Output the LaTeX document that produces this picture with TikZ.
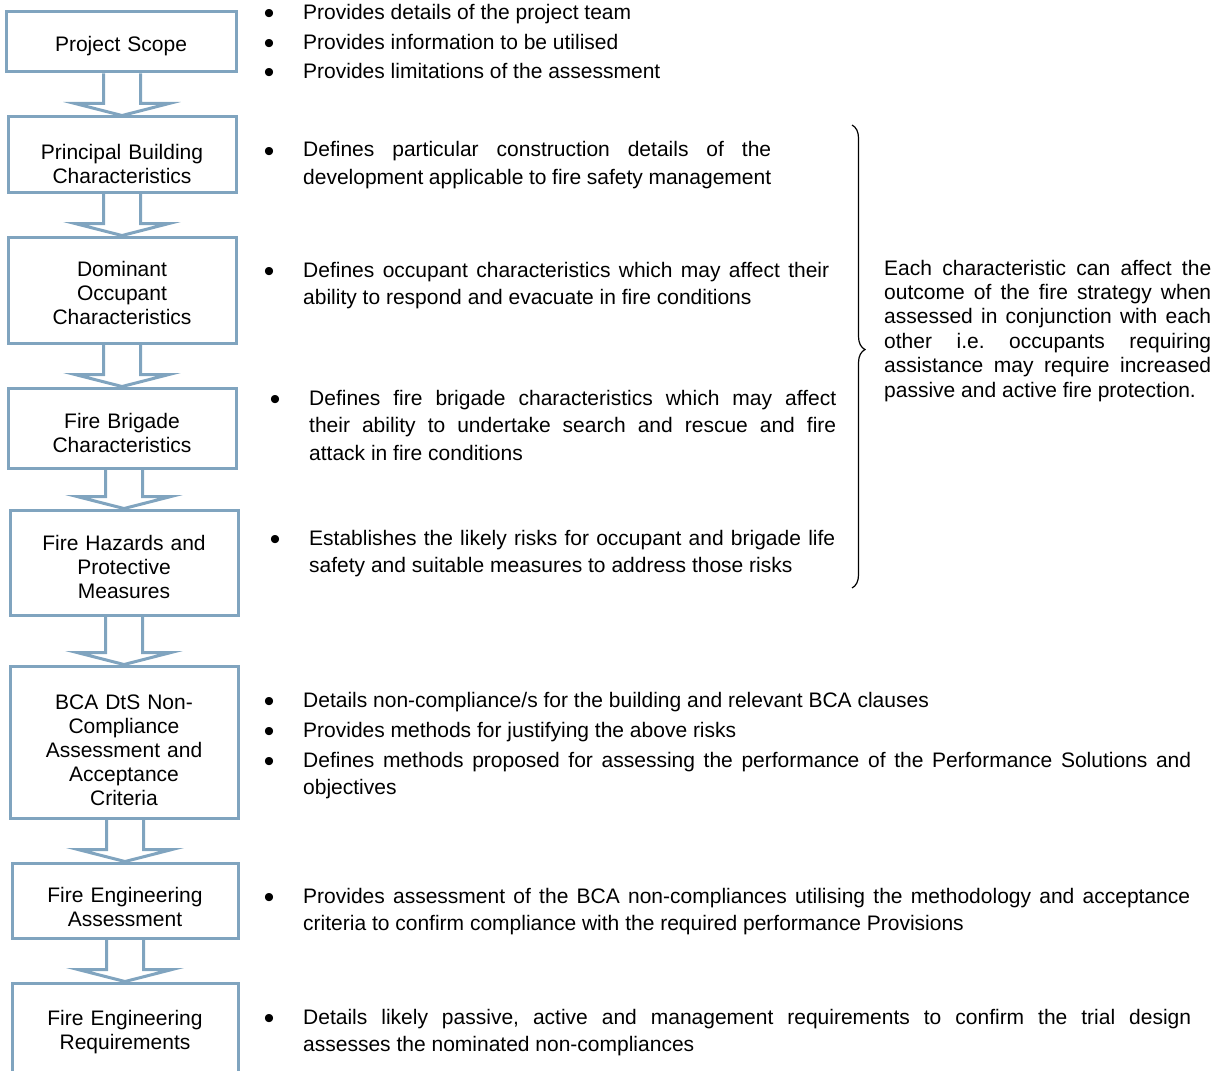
\documentclass[tikz,border=0pt]{standalone}
\usepackage{fontspec}
\setmainfont{Liberation Sans}
\usetikzlibrary{backgrounds,decorations.pathreplacing}
\definecolor{boxc}{RGB}{128,164,191}
\tikzset{
  box/.style={draw=boxc, line width=3pt, fill=white, inner sep=0pt},
  btxt/.style={font=\fontsize{21}{24}\selectfont, text width=#1, align=center, anchor=base, inner sep=0pt},
  ptxt/.style={font=\fontsize{21}{27.6}\selectfont, text width=#1, align=justify, anchor=base west, inner sep=0pt,
    execute at begin node={\tolerance=10000\hbadness=10000\hyphenpenalty=10000\exhyphenpenalty=10000\frenchspacing}},
  rtxt/.style={font=\fontsize{21}{24.4}\selectfont, text width=#1, align=justify, anchor=base west, inner sep=0pt,
    execute at begin node={\tolerance=10000\hbadness=10000\hyphenpenalty=10000\exhyphenpenalty=10000\frenchspacing}},
  bul/.style={font=\fontsize{30}{30}\selectfont, anchor=base, inner sep=0pt, yshift=-4pt},
  blk/.style={draw=boxc, line width=3pt, line join=miter},
  brc/.style={draw=black, line width=1.2pt, decorate, decoration={brace, amplitude=13pt, aspect=0.485}}
}
\newcommand\flowarrow[2]{%
  \draw[blk] ([xshift=-18.5pt]#2.north |- #1.south) -- ([xshift=-18.5pt,yshift=12pt]#2.north)
    -- ([xshift=-47pt,yshift=12pt]#2.north) -- (#2.north) -- ([xshift=47pt,yshift=12pt]#2.north)
    -- ([xshift=18.5pt,yshift=12pt]#2.north) -- ([xshift=18.5pt]#2.north |- #1.south);}
\begin{document}
\begin{tikzpicture}[x=1pt,y=-1pt]
\useasboundingbox (0,0) rectangle (1217,1070);
\clip (0,0) rectangle (1217,1070);
% boxes
\node[box, minimum width=230pt, minimum height=60pt] (b1) at (121,42) {};
\node[box, minimum width=228pt, minimum height=75pt] (b2) at (122,154.5) {};
\node[box, minimum width=228pt, minimum height=106pt] (b3) at (122,290) {};
\node[box, minimum width=228pt, minimum height=80pt] (b4) at (122,428) {};
\node[box, minimum width=228pt, minimum height=105pt] (b5) at (124,562.5) {};
\node[box, minimum width=228pt, minimum height=152pt] (b6) at (124,742) {};
\node[box, minimum width=226pt, minimum height=75pt] (b7) at (125,900.5) {};
\node[box, minimum width=226pt, minimum height=100pt] (b8) at (125,1033) {};
% box texts
\node[btxt=226pt] (t1) at (121,52) {Project Scope};
\node[btxt=226pt] (t2) at (122,159) {Principal Building\\Characteristics};
\node[btxt=226pt] (t3) at (122,276) {Dominant\\Occupant\\Characteristics};
\node[btxt=226pt] (t4) at (122,428) {Fire Brigade\\Characteristics};
\node[btxt=226pt] (t5) at (124,550) {Fire Hazards and\\Protective\\Measures};
\node[btxt=226pt] (t6) at (124,709) {BCA DtS Non-\\Compliance\\Assessment and\\Acceptance\\Criteria};
\node[btxt=226pt] (t7) at (125,902) {Fire Engineering\\Assessment};
\node[btxt=226pt] (t8) at (125,1025) {Fire Engineering\\Requirements};
% arrows
\begin{scope}[on background layer]
\flowarrow{b1}{b2}
\flowarrow{b2}{b3}
\flowarrow{b3}{b4}
\flowarrow{b4}{b5}
\flowarrow{b5}{b6}
\flowarrow{b6}{b7}
\flowarrow{b7}{b8}
\end{scope}
% bullets
\node[bul] (u1) at (269,20) {•};
\node[bul] (u2) at (269,50) {•};
\node[bul] (u3) at (269,79) {•};
\node[ptxt=600pt] (p1) at (303,20) {Provides details of the project team};
\node[ptxt=600pt] (p2) at (303,50) {Provides information to be utilised};
\node[ptxt=600pt] (p3) at (303,79) {Provides limitations of the assessment};
\node[bul] (u4) at (269,157) {•};
\node[ptxt=468pt] (p4) at (303,157) {Defines particular construction details of the\linebreak development applicable to fire safety management};
\node[bul] (u5) at (269,277) {•};
\node[ptxt=526pt] (p5) at (303,277) {Defines occupant characteristics which may affect their\linebreak ability to respond and evacuate in fire conditions};
\node[bul] (u6) at (275,405) {•};
\node[ptxt=527pt] (p6) at (309,405) {Defines fire brigade characteristics which may affect\linebreak their ability to undertake search and rescue and fire\linebreak attack in fire conditions};
\node[bul] (u7) at (275,545) {•};
\node[ptxt=526pt] (p7) at (309,545) {Establishes the likely risks for occupant and brigade life\linebreak safety and suitable measures to address those risks};
\node[bul] (u8) at (269,707) {•};
\node[bul] (u9) at (269,737) {•};
\node[bul] (u10) at (269,767) {•};
\node[ptxt=888pt] (p8) at (303,707) {Details non-compliance/s for the building and relevant BCA clauses};
\node[ptxt=888pt] (p9) at (303,737) {Provides methods for justifying the above risks};
\node[ptxt=888pt] (p10) at (303,767) {Defines methods proposed for assessing the performance of the Performance Solutions and\linebreak objectives};
\node[bul] (u11) at (269,903) {•};
\node[ptxt=887pt] (p11) at (303,903) {Provides assessment of the BCA non-compliances utilising the methodology and acceptance\linebreak criteria to confirm compliance with the required performance Provisions};
\node[bul] (u12) at (269,1024) {•};
\node[ptxt=888pt] (p12) at (303,1024) {Details likely passive, active and management requirements to confirm the trial design\linebreak assesses the nominated non-compliances};
% brace and note
\coordinate (brtop) at (852,125);
\coordinate (brbot) at (852,588);
\draw[brc] (brtop) -- (brbot);
\node[rtxt=327pt] (note) at (884,275) {Each characteristic can affect the\linebreak outcome of the fire strategy when\linebreak assessed in conjunction with each\linebreak other i.e. occupants requiring\linebreak assistance may require increased\linebreak passive and active fire protection.};
\end{tikzpicture}
\end{document}
